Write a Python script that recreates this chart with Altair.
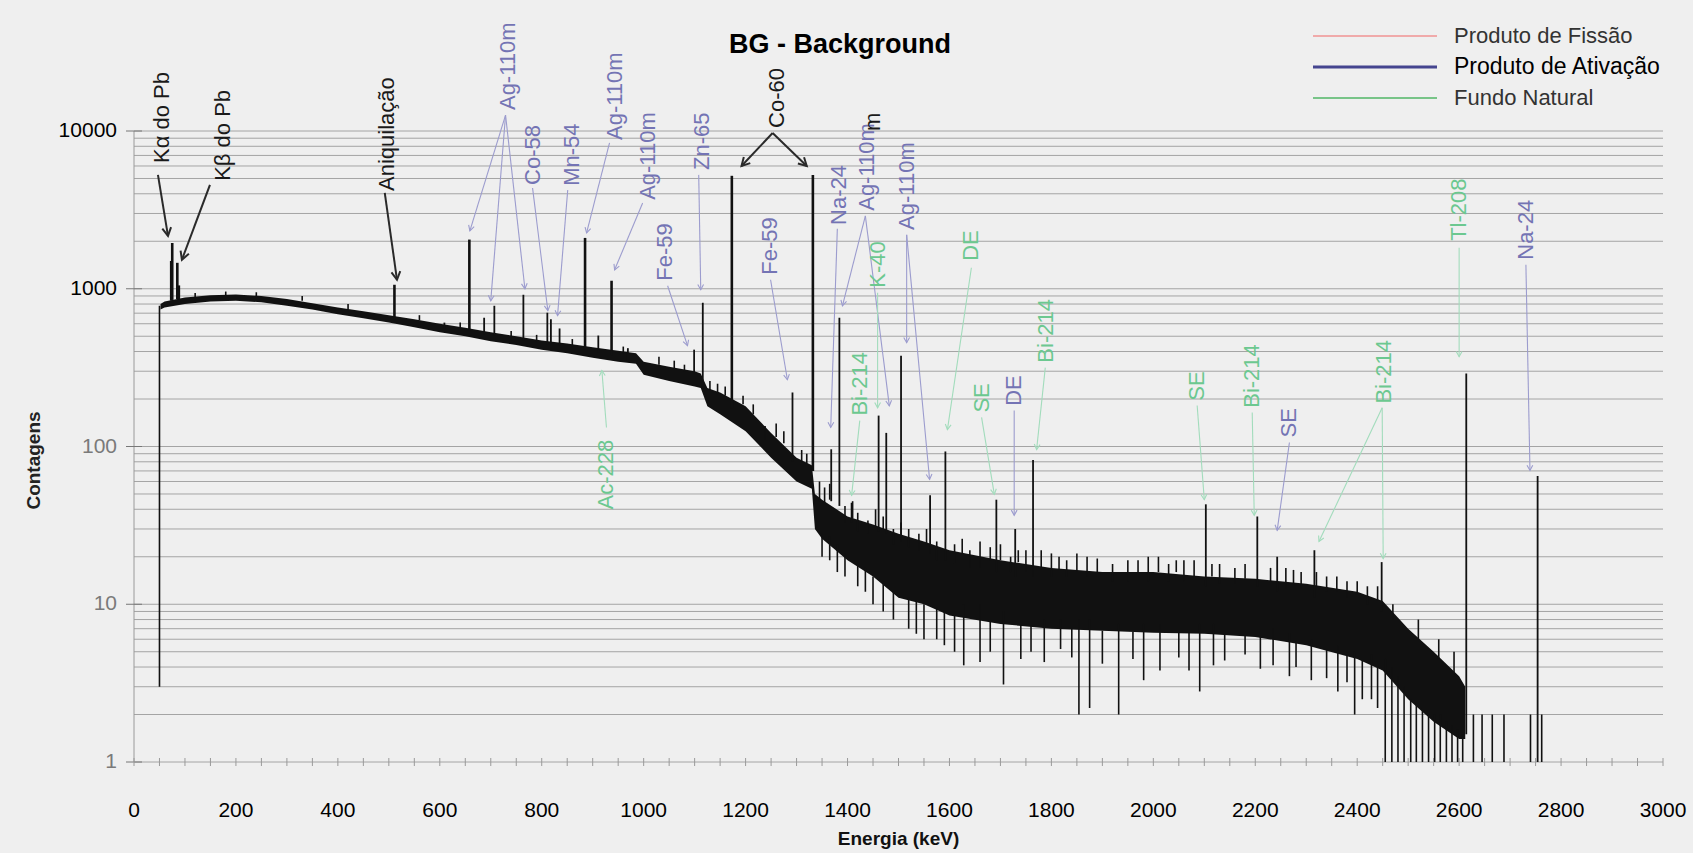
import math
import altair as alt
import pandas as pd

W, H = 1529, 631
FONT = "Liberation Sans"
BG = "#efefef"

# ---------------- data ----------------
# continuum band of the spectrum: energy (keV), lower and upper edge (counts)
band_E = [52, 60, 100, 150, 200, 250, 300, 350, 400, 450, 500, 550, 600, 650, 700,
          750, 800, 850, 900, 950, 985, 1000, 1050, 1100, 1112, 1125, 1150, 1200,
          1250, 1300, 1330, 1336, 1350, 1400, 1450, 1500, 1550, 1600, 1700, 1800,
          1900, 2000, 2100, 2200, 2300, 2400, 2450, 2500, 2550, 2600, 2612]
band_lo = [740, 760, 800, 830, 840, 820, 780, 740, 690, 650, 610, 570, 530, 500, 465,
           440, 410, 390, 365, 345, 335, 285, 260, 240, 235, 180, 160, 125,
           85, 60, 54, 30, 26, 19, 15, 11, 10, 8.5, 7.5, 7,
           6.8, 6.6, 6.5, 6.2, 5.5, 4.5, 3.8, 2.5, 1.8, 1.4, 1.4]
band_hi = [800, 830, 880, 910, 920, 900, 860, 810, 760, 720, 680, 640, 600, 565, 530,
           500, 470, 450, 425, 405, 390, 345, 320, 300, 290, 235, 220, 180,
           122, 85, 76, 50, 46, 36, 32, 28, 25, 22, 19, 17,
           16, 16, 15, 14.5, 13.5, 12, 10.5, 7, 5, 3.5, 3]

# photopeaks: energy, base and top (counts)
peak_E = [73, 75, 85, 88, 511, 609, 658, 687, 707, 764, 811, 818, 835, 885, 911, 937,
          969, 1099, 1116, 1173, 1238, 1292, 1332, 1368, 1384, 1408, 1461, 1476, 1505,
          1562, 1592, 1692, 1729, 1764, 2103, 2204, 2243, 2316, 2448, 2614, 2754]
peak_base = [840, 850, 860, 860, 640, 560, 540, 515, 505, 470, 445, 440, 435, 410, 395, 380,
             345, 290, 260, 175, 110, 80, 70, 45, 42, 33, 29, 28, 25,
             21, 19, 16, 15, 15, 13, 13, 12, 11, 9, 1.5, 1]
peak_top = [1500, 1950, 1460, 1050, 1060, 610, 2050, 655, 780, 916, 705, 640, 560, 2100, 505, 1124,
            420, 411, 815, 5200, 135, 220, 5270, 96, 655, 44, 157, 122, 376,
            49, 93, 46, 30, 82, 43, 36, 20, 22, 18.5, 290, 65]

# low-count dips of the noisy part: energy, top, bottom
dip_E = [1350, 1365, 1380, 1395, 1420, 1435, 1450, 1470, 1490, 1520, 1535, 1550, 1575,
         1590, 1610, 1628, 1660, 1680, 1706, 1740, 1760, 1786, 1818, 1840, 1854, 1875,
         1900, 1932, 1960, 1981, 2013, 2050, 2070, 2091, 2118, 2140, 2180, 2210, 2235,
         2267, 2280, 2310, 2340, 2362, 2380, 2395, 2410, 2428, 2440, 2455, 2468, 2480,
         2492, 2505, 2516, 2528, 2540, 2552, 2563, 2575, 2586, 2597, 2607, 2628, 2645,
         2665, 2688, 2740, 2762]
dip_top = [28, 27, 24, 21, 18, 17, 15, 14, 12, 11, 10.5, 10, 9.5,
           9, 8.5, 10, 10, 7.8, 9, 7.5, 7.4, 8, 8, 7, 8, 8,
           6.8, 7.5, 6.7, 7.5, 7.5, 6.6, 6.6, 7.5, 7.5, 6.4, 6.3, 6.2, 7,
           6.5, 5.8, 6, 5.2, 5.5, 4.8, 5, 4.4, 4.8, 4, 4.5, 4, 3.5,
           3, 2.5, 2.4, 2.2, 2, 2, 2, 1.8, 1.7, 1.6, 1.5, 2, 2,
           2, 2, 2, 2]
dip_bottom = [20, 19, 16, 15, 13, 12, 10, 9, 8, 7, 6.5, 6, 6,
              5.5, 5, 4.1, 4.3, 5, 3.1, 4.5, 5, 4.3, 5.2, 4.6, 2, 2.2,
              4.2, 2, 4.5, 3.3, 3.8, 4.6, 3.8, 2.8, 4.1, 4.4, 4.8, 3.9, 4.1,
              3.5, 4, 3.3, 3.4, 2.8, 3.2, 2, 2.5, 2.5, 2.2, 1, 1, 1,
              1, 1, 1, 1, 1, 1, 1, 1, 1, 1, 1, 1, 1,
              1, 1, 1, 1]

# upward noise spikes: energy, base, top
spike_E = [120, 180, 240, 330, 420, 560, 640, 740, 790, 860, 960, 1030, 1060, 1080,
           1130, 1145, 1160, 1195, 1215, 1260, 1275, 1310, 1320,
           1345, 1355, 1365, 1395, 1410, 1420, 1440, 1455, 1470, 1490, 1505, 1520, 1540,
           1555, 1575, 1610, 1625, 1640, 1660, 1680, 1700, 1720, 1735, 1750, 1780, 1800,
           1815, 1830, 1850, 1870, 1890, 1920, 1950, 1970, 1990, 2010, 2030, 2045, 2060,
           2080, 2115, 2130, 2160, 2180, 2230, 2260, 2275, 2290, 2320, 2340, 2360, 2380,
           2400, 2420, 2440, 2470, 2520, 2560, 2590]
spike_base = [870, 900, 890, 840, 740, 630, 560, 490, 460, 430, 390, 330, 310, 300,
              225, 215, 210, 185, 160, 115, 105, 80, 78,
              45, 44, 46, 33, 35, 29, 28, 31, 30, 24, 27, 23, 22,
              24, 19, 18, 21, 17, 17, 19, 19, 16, 18.5, 16, 17, 15,
              16.5, 15, 16, 15, 16, 14, 14, 16, 14, 16, 14, 16, 14,
              15, 15, 13.5, 13.5, 14.5, 14, 12.5, 13.5, 12.5, 13, 12, 12, 11,
              11.5, 10, 10.5, 8, 6, 4.5, 3.5]
spike_top = [940, 960, 950, 900, 800, 680, 610, 540, 510, 480, 430, 370, 350, 330,
             260, 250, 240, 210, 185, 140, 125, 95, 90,
             60, 55, 58, 42, 45, 38, 34, 40, 36, 30, 33, 30, 28,
             30, 25, 24, 26, 22, 25, 23, 24, 20, 22, 22, 22, 21,
             20, 19, 21, 20, 19.5, 18, 19, 19, 20, 20, 18, 19, 19,
             19, 18, 18, 17, 18, 17, 17, 16.5, 16, 16, 15, 15, 14,
             14, 13, 13, 10, 8, 6, 5]

# detector threshold edge
edge_E = [50]
edge_lo = [3]
edge_hi = [780]

# annotations (o = other, a = activation product, n = natural background)
label_text = ["Kα do Pb", "Kβ do Pb", "Aniquilação", "Ag-110m", "Co-58", "Mn-54", "Ag-110m",
              "Ag-110m", "Fe-59", "Zn-65", "Co-60", "Fe-59", "Na-24", "Ag-110m", "m", "K-40",
              "Ag-110m", "DE", "Bi-214", "Ac-228", "SE", "DE", "Bi-214", "SE", "Bi-214", "SE",
              "Bi-214", "Tl-208", "Na-24"]
label_E = [55, 174.5, 496, 733, 782, 859, 943, 1008, 1041, 1114, 1261, 1247, 1384, 1439,
           1449, 1459, 1516, 1643, 1424, 927, 1663, 1727, 1790, 2086, 2194, 2267, 2453,
           2600, 2731]
label_c = [6270, 4830, 4170, 13580, 4550, 4490, 8770, 3660, 1124, 5660, 10450, 1227, 2540,
           3120, 10000, 1014, 2360, 1504, 157, 39.9, 164, 181, 340, 195, 176, 114, 187,
           2013, 1527]
label_kind = ["o", "o", "o", "a", "a", "a", "a", "a", "a", "a", "o", "a", "a", "a", "o", "n",
              "a", "n", "n", "n", "n", "a", "n", "n", "n", "a", "n", "n", "a"]

arrow_E1 = [47, 149, 492, 729, 729, 729, 782, 851, 933, 998, 1047, 1108, 1253, 1253, 1249,
            1380, 1435, 1435, 1459, 1516, 1516, 1643, 1424, 927, 1663, 1727, 1788, 2086,
            2194, 2267, 2449, 2449, 2600, 2731]
arrow_c1 = [5270, 4550, 4055, 12620, 12620, 12620, 4355, 4230, 8400, 3500, 1045, 5270, 9710,
            9710, 1140, 2400, 2900, 2900, 944, 2197, 2197, 1358, 146, 132, 153, 169, 316,
            182, 164, 106, 176, 176, 1817, 1420]
arrow_E2 = [66.7, 94, 516, 659, 700, 767, 812, 831, 888, 943, 1086, 1112, 1192, 1320, 1282,
            1367, 1390, 1482, 1459, 1516, 1561, 1596, 1408, 918, 1688, 1727, 1771, 2100,
            2198, 2243, 2325, 2451, 2600, 2739]
arrow_c2 = [2165, 1527, 1140, 2330, 839, 1000, 726, 675, 2260, 1318, 436, 986, 6000, 6000,
            265, 132, 780, 181, 176, 455, 61.8, 128, 49, 303, 49.7, 36.6, 95.7, 46, 36.6,
            29.4, 25, 19.5, 371, 70.5]
arrow_kind = ["o", "o", "o", "a", "a", "a", "a", "a", "a", "a", "a", "a", "o", "o", "a",
              "a", "a", "a", "n", "a", "a", "n", "n", "n", "n", "a", "n", "n", "n", "a",
              "n", "n", "n", "a"]

legend_names = ["Produto de Fissão", "Produto de Ativação", "Fundo Natural"]
title_text = "BG - Background"
x_title = "Energia (keV)"
y_title = "Contagens"
x_labels = list(range(0, 3001, 200))
x_minor = list(range(0, 3001, 50))
y_labels = [1, 10, 100, 1000, 10000]
grid_values = [m * 10 ** d for d in range(4) for m in range(1, 10)] + [10000]

# ---------------- styles ----------------
TEXT_COLORS = {"o": "#1a1a1a", "a": "#7474b4", "n": "#6cc890"}
ARROW_COLORS = {"o": "#2a2a2a", "a": "#9c9cce", "n": "#a2dcbc"}
LEGEND_COLORS = ["#f0aaaa", "#45458f", "#78c488"]

# ---------------- tables ----------------
band = pd.DataFrame({"E": band_E, "lo": band_lo, "hi": band_hi})
peaks = pd.DataFrame({"E": peak_E, "lo": peak_base, "hi": peak_top})
peaks["w"] = [2.6 if t >= 1000 else 1.8 for t in peak_top]
dips = pd.DataFrame({"E": dip_E, "lo": dip_bottom, "hi": dip_top})
lines = pd.concat([
    pd.DataFrame({"E": spike_E, "lo": spike_base, "hi": spike_top}),
    pd.DataFrame({"E": edge_E, "lo": edge_lo, "hi": edge_hi}),
])
labels = pd.DataFrame({"t": label_text, "E": label_E, "c": label_c})
labels["col"] = [TEXT_COLORS[k] for k in label_kind]
arrows = pd.DataFrame({"E1": arrow_E1, "c1": arrow_c1, "E2": arrow_E2, "c2": arrow_c2,
                       "k": arrow_kind})
arrows["col"] = [ARROW_COLORS[k] for k in arrow_kind]
arrows["sw"] = [2.0 if k == "o" else 1.1 for k in arrow_kind]
arrows["sz"] = [260 if k == "o" else 110 for k in arrow_kind]
ylab = pd.DataFrame({"v": y_labels, "t": [str(v) for v in y_labels]})
ylab["col"] = ["#000" if v >= 1000 else "#7a7a7a" for v in y_labels]
xlab = pd.DataFrame({"v": x_labels, "t": [str(v) for v in x_labels]})
xmin = pd.DataFrame({"v": x_minor})


def px(e, c):
    return e / 3000 * W, H - math.log10(c) / 4 * H


angs = []
for e1, c1, e2, c2 in zip(arrow_E1, arrow_c1, arrow_E2, arrow_c2):
    x1, y1 = px(e1, c1)
    x2, y2 = px(e2, c2)
    angs.append(math.degrees(math.atan2(-(x2 - x1), (y2 - y1))) % 360)
arrows["ang"] = angs

xs = alt.Scale(domain=[0, 3000], nice=False, zero=False)
ys = alt.Scale(type="log", domain=[1, 10000], nice=False)


def X(f):
    return alt.X(f, scale=xs, axis=None)


def Y(f):
    return alt.Y(f, scale=ys, axis=None)


grid = alt.Chart(pd.DataFrame({"g": grid_values})).mark_rule(
    color="#a4a4a4", strokeWidth=1
).encode(y=Y("g:Q"))

band_layer = alt.Chart(band).mark_area(color="#111", opacity=1, interpolate="linear").encode(
    x=X("E:Q"), y=Y("lo:Q"), y2="hi:Q")

peak_layer = alt.Chart(peaks).mark_rule(color="#111").encode(
    x=X("E:Q"), y=Y("lo:Q"), y2="hi:Q",
    strokeWidth=alt.StrokeWidth("w:Q", scale=None))

line_layer = alt.Chart(lines).mark_rule(color="#111", strokeWidth=1.6).encode(
    x=X("E:Q"), y=Y("lo:Q"), y2="hi:Q")

dip_layer = alt.Chart(dips).mark_rule(color="#111", strokeWidth=1.6).encode(
    x=X("E:Q"), y=Y("lo:Q"), y2="hi:Q")

arrow_layer = alt.Chart(arrows).mark_rule().encode(
    x=X("E1:Q"), y=Y("c1:Q"), x2="E2:Q", y2="c2:Q",
    color=alt.Color("col:N", scale=None),
    strokeWidth=alt.StrokeWidth("sw:Q", scale=None))

head_layer = alt.Chart(arrows).mark_point(
    shape="M-0.55,-1L0,0L0.55,-1", filled=False, opacity=1
).encode(
    x=X("E2:Q"), y=Y("c2:Q"),
    angle=alt.Angle("ang:Q", scale=None),
    color=alt.Color("col:N", scale=None),
    size=alt.Size("sz:Q", scale=None),
    strokeWidth=alt.StrokeWidth("sw:Q", scale=None))

label_layer = alt.Chart(labels).mark_text(
    angle=270, align="left", baseline="middle", font=FONT, fontSize=22
).encode(x=X("E:Q"), y=Y("c:Q"), text="t:N", color=alt.Color("col:N", scale=None))

# axes drawn from the tick lists through the scales
y_domain = alt.Chart(pd.DataFrame({"a": [1]})).mark_rule(color="#9a9a9a", strokeWidth=1).encode(
    x=alt.value(0), y=alt.value(0), y2=alt.value(H))
y_ticks = alt.Chart(ylab).mark_rule(color="#777", strokeWidth=1).encode(
    x=alt.value(-8), x2=alt.value(8), y=Y("v:Q"))
y_text = alt.Chart(ylab).mark_text(font=FONT, fontSize=21, align="right",
                                   baseline="middle").encode(
    x=alt.value(-17), y=Y("v:Q"), text="t:N", color=alt.Color("col:N", scale=None))
x_ticks_layer = alt.Chart(xmin).mark_rule(color="#9a9a9a", strokeWidth=1).encode(
    x=X("v:Q"), y=alt.value(H - 4), y2=alt.value(H + 4))
x_text = alt.Chart(xlab).mark_text(font=FONT, fontSize=21, align="center",
                                   baseline="middle", color="#000").encode(
    x=X("v:Q"), y=alt.value(H + 49), text="t:N")
x_title_layer = alt.Chart(pd.DataFrame({"t": [x_title]})).mark_text(
    font=FONT, fontSize=19, fontWeight="bold", color="#111", align="center",
    baseline="middle").encode(x=alt.value(W / 2), y=alt.value(H + 77), text="t:N")
y_title_layer = alt.Chart(pd.DataFrame({"t": [y_title]})).mark_text(
    font=FONT, fontSize=19, fontWeight="bold", color="#222", align="center",
    baseline="middle", angle=270).encode(x=alt.value(-100), y=alt.value(H / 2 + 14),
                                          text="t:N")

title_layer = alt.Chart(pd.DataFrame({"t": [title_text]})).mark_text(
    font=FONT, fontSize=27, fontWeight="bold", color="#000", align="center",
    baseline="middle"
).encode(x=alt.value(706), y=alt.value(-86), text="t:N")

legend_layers = []
for i, (name, col) in enumerate(zip(legend_names, LEGEND_COLORS)):
    yy = -95 + 31 * i
    d = pd.DataFrame({"t": [name]})
    legend_layers.append(
        alt.Chart(d).mark_rule(color=col, strokeWidth=3 if i == 1 else 2).encode(
            x=alt.value(1179), x2=alt.value(1303), y=alt.value(yy))
    )
    legend_layers.append(
        alt.Chart(d).mark_text(font=FONT, fontSize=23 if i == 1 else 22,
                               color="#000" if i == 1 else "#333", align="left",
                               baseline="middle").encode(
            x=alt.value(1320), y=alt.value(yy), text="t:N")
    )

chart = alt.layer(
    grid, y_domain, y_ticks, x_ticks_layer, band_layer, peak_layer, line_layer, dip_layer,
    arrow_layer, head_layer, label_layer, y_text, x_text, x_title_layer, y_title_layer,
    title_layer, *legend_layers
).properties(
    width=W, height=H, background=BG,
    padding={"left": 134, "top": 131, "right": 30, "bottom": 91},
    autosize=alt.AutoSizeParams(type="none"),
).configure_view(strokeWidth=0, fill=BG)

chart.save("out.html", embed_options={"renderer": "svg", "actions": False})
